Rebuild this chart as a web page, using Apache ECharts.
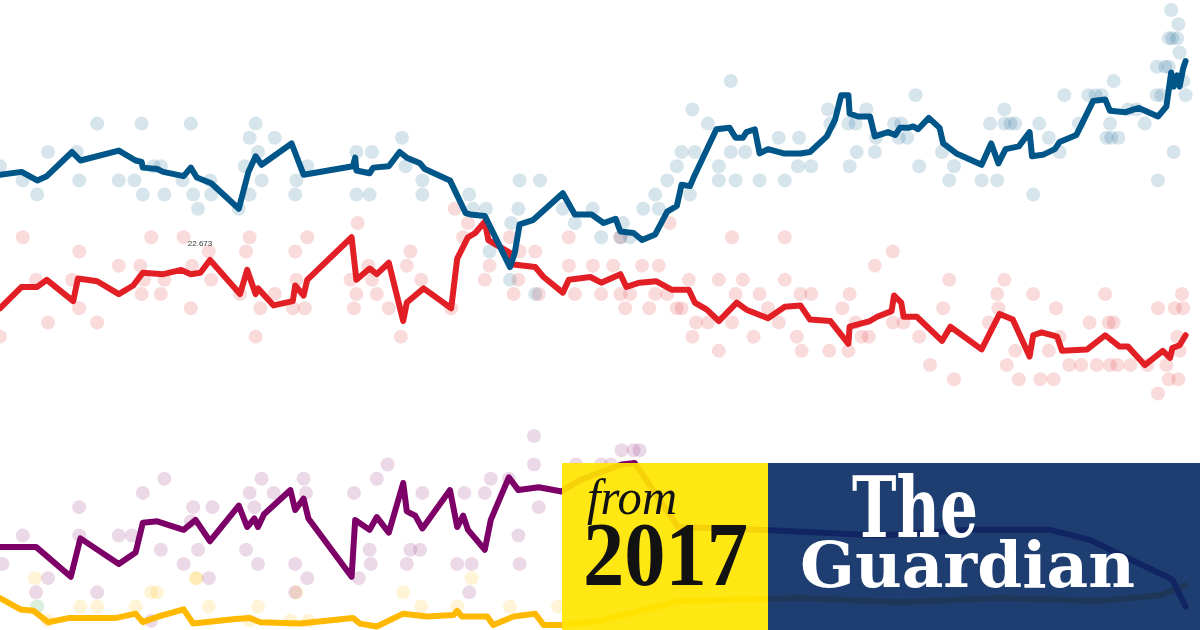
<!DOCTYPE html>
<html>
<head>
<meta charset="utf-8">
<title>Poll tracker</title>
<script src="https://cdn.jsdelivr.net/npm/echarts@6/dist/echarts.min.js"></script>
<style>
    html, body { margin: 0; padding: 0; background: #fff; }
    #chart { width: 1200px; height: 630px; }
</style>
</head>
<body>
<div id="chart"></div>
<script>
    // x = weeks since start of tracker, y = vote share (%)
    var conLine = [[0,37.4],[1.8,37.6],[3.1,37.0],[3.9,37.3],[6.0,39.0],[6.7,38.4],[9.9,39.1],[11.3,38.4],[11.8,38.3],[11.9,37.9],[13.1,37.8],[13.6,37.6],[15.3,37.3],[15.9,37.9],[16.4,37.2],[17.6,36.8],[19.9,35.0],[20.7,37.6],[21.3,38.7],[21.8,38.1],[24.3,39.6],[25.3,37.4],[29.4,38.0],[29.6,38.6],[29.7,37.7],[30.8,37.5],[31.1,37.9],[32.4,38.0],[33.3,39.0],[33.9,38.6],[35.0,38.2],[35.4,37.8],[37.5,37.0],[38.8,34.7],[39.2,34.6],[40.4,34.5],[42.5,30.9],[42.9,31.9],[43.3,33.9],[44.4,34.2],[46.9,36.1],[47.9,34.6],[49.3,34.6],[50.3,34.0],[51.3,34.3],[51.7,33.4],[52.8,33.3],[53.5,32.8],[54.6,33.2],[55.6,34.8],[56.4,35.2],[56.8,36.7],[57.5,36.6],[57.8,37.2],[59.7,40.6],[60.8,40.7],[61.3,40.0],[61.9,40.0],[62.2,40.4],[62.9,40.6],[63.3,38.9],[64.0,39.2],[65.3,38.9],[66.7,38.9],[67.5,39.0],[68.9,40.1],[69.6,41.3],[70.1,43.0],[70.7,43.0],[70.8,41.7],[71.5,41.5],[72.5,41.5],[72.9,40.1],[74.0,40.4],[74.6,40.2],[75.0,40.7],[75.7,40.7],[76.1,40.8],[76.5,40.6],[77.4,41.4],[78.3,40.7],[78.6,39.6],[79.7,38.9],[81.8,38.1],[82.6,39.6],[83.2,38.2],[83.8,39.2],[84.9,39.4],[85.8,40.4],[86.0,38.7],[86.9,38.8],[87.9,39.2],[88.3,39.7],[89.7,40.2],[91.1,42.6],[92.1,42.7],[92.5,41.9],[93.8,41.8],[94.9,42.1],[96.5,41.5],[97.2,42.2],[97.6,44.6],[97.8,43.6],[98.1,44.4],[98.3,43.6],[98.6,44.9],[98.8,45.4]];

    var labLine = [[0,28.0],[1.8,29.5],[3.1,29.5],[3.9,30.0],[6.1,28.5],[6.5,30.1],[8.1,29.9],[9.9,29.0],[11.1,29.6],[11.9,30.5],[13.6,30.4],[15.1,30.7],[15.9,30.4],[16.7,30.5],[17.5,31.4],[20.0,29.0],[20.6,30.7],[21.3,29.0],[21.5,29.4],[22.8,28.2],[24.4,28.5],[24.6,29.6],[25.3,28.9],[25.6,30.0],[29.3,33.0],[29.7,30.0],[30.8,30.8],[31.4,30.4],[32.4,31.2],[33.6,27.1],[33.9,28.4],[35.3,29.4],[37.6,28.0],[38.1,31.5],[39.0,33.0],[39.6,33.3],[40.4,34.1],[40.7,32.8],[42.5,31.9],[42.6,31.1],[44.6,30.9],[45.3,30.2],[46.9,29.1],[47.4,30.0],[49.2,30.2],[50.1,29.8],[51.7,30.4],[52.2,29.5],[53.3,29.8],[54.7,29.9],[56.0,29.3],[57.4,29.3],[57.9,28.4],[58.9,27.9],[59.9,27.1],[61.4,28.4],[62.2,27.9],[64.0,27.3],[65.4,28.1],[66.7,28.2],[67.5,27.2],[69.2,27.1],[70.7,25.5],[70.8,26.7],[72.5,27.1],[73.1,27.4],[74.3,27.8],[74.5,28.9],[75.1,28.4],[75.3,27.4],[76.4,27.4],[78.5,25.7],[79.2,26.7],[81.8,25.1],[83.3,27.6],[84.4,27.2],[85.8,24.6],[86.1,26.1],[86.8,26.3],[88.1,26.0],[88.5,25.0],[90.6,25.1],[92.1,26.1],[93.3,25.3],[94.0,25.3],[95.4,24.0],[96.9,25.0],[97.5,24.5],[97.7,25.2],[98.3,25.4],[98.8,26.1]];

    var ukipLine = [[0,11.2],[3.0,11.2],[5.9,9.1],[6.7,11.8],[9.9,10.0],[11.3,10.8],[11.9,12.9],[13.1,13.0],[15.3,12.4],[16.3,13.1],[17.5,11.6],[19.9,14.1],[20.6,12.6],[21.2,13.2],[21.5,12.6],[22.0,13.5],[24.2,15.2],[24.6,13.8],[25.3,14.6],[25.7,13.2],[29.3,9.1],[29.6,13.1],[30.8,12.4],[31.4,13.3],[32.4,12.2],[33.6,15.7],[33.9,13.7],[34.6,13.4],[35.2,12.5],[37.5,15.2],[38.1,12.6],[38.6,13.4],[39.0,12.4],[40.4,11.0],[40.9,13.1],[42.4,16.1],[43.2,15.2],[44.9,15.4],[46.8,15.1],[48.3,15.9],[51.8,17.0],[52.9,17.1],[56.5,12.6],[63.3,12.4],[73.3,12.0],[80.8,12.4],[87.5,12.4],[90.8,11.7],[97.7,8.9],[98.8,7.0]];

    var ldLine = [[0,7.6],[1.7,6.8],[2.8,6.7],[4.0,5.9],[5.8,6.2],[9.7,6.2],[11.3,6.5],[11.9,5.9],[13.2,6.3],[15.3,6.8],[16.1,5.8],[19.4,6.1],[20.8,6.2],[21.7,5.9],[25.0,5.8],[29.4,6.2],[30.0,5.8],[31.4,5.6],[33.6,6.5],[35.6,6.3],[37.8,6.4],[38.1,6.7],[38.5,6.3],[40.6,6.3],[41.1,5.7],[42.8,6.3],[44.6,6.5],[45.3,5.7],[46.8,5.7],[50.0,6.0],[56.7,7.4],[66.7,7.6],[75.0,7.3],[83.3,7.6],[91.7,7.4],[96.7,7.8],[98.8,8.5]];

    var conPolls = [[8.1,41],[11.8,41],[15.9,41],[21.3,41],[20.8,40],[22.9,40],[33.5,40],[4.0,39],[6.4,39],[21.5,39],[29.7,39],[31.0,39],[0,38],[12.8,38],[13.4,38],[20.4,38],[25.6,38],[33.8,38],[1.9,37],[6.6,37],[9.9,37],[11.2,37],[15.2,37],[17.5,37],[21.8,37],[24.7,37],[3.1,36],[11.9,36],[13.7,36],[16.1,36],[17.6,36],[20.8,36],[24.6,36],[29.7,36],[30.8,36],[16.5,35],[19.9,35],
        [60.9,44],[57.7,42],[59.0,41],[64.9,40],[66.6,40],[56.8,39],[57.9,39],[60.9,39],[62.1,39],[56.4,38],[59.9,38],[66.5,38],[35.2,37],[43.3,37],[45.0,37],[55.6,37],[59.9,37],[61.3,37],[63.3,37],[65.4,37],[35.2,36],[39.1,36],[54.6,36],[57.5,36],[39.4,35],[40.5,35],[43.2,35],[46.9,35],[49.4,35],[53.6,35],[54.9,35],[42.6,34],[47.9,34],[51.9,34],[50.1,33],[51.7,33],[52.5,33],[40.8,32],[42.5,30],[44.6,29],
        [97.6,49],[98.2,48],[97.4,47],[97.7,47],[98.1,47],[98.3,46],[96.4,45],[97.1,45],[97.4,45],[92.8,44],[98.6,44],[76.3,43],[88.7,43],[90.7,43],[91.3,43],[91.8,43],[96.4,43],[96.8,43],[98.8,43],[69.0,42],[72.2,42],[83.7,42],[94.0,42],[94.7,42],[69.2,41],[70.7,41],[71.3,41],[74.5,41],[75.1,41],[82.5,41],[83.7,41],[84.2,41],[84.6,41],[86.6,41],[89.9,41],[92.5,41],[95.4,41],[73.0,40],[74.9,40],[75.6,40],[87.4,40],[92.2,40],[92.6,40],[93.2,40],[71.4,39],[72.9,39],[78.5,39],[88.3,39],[97.8,39],[67.6,38],[70.8,38],[76.6,38],[79.5,38],[79.1,37],[81.8,37],[83.1,37],[96.5,37],[86.1,36]];

    var labPolls = [[29.8,34],[1.9,33],[12.6,33],[15.3,33],[20.8,33],[25.6,33],[6.6,32],[17.4,32],[20.5,32],[24.6,32],[9.9,31],[11.7,31],[16.0,31],[30.7,31],[3.0,30],[6.0,30],[12.0,30],[13.7,30],[17.6,30],[24.7,30],[29.2,30],[31.0,30],[11.8,29],[13.4,29],[20.0,29],[22.9,29],[29.7,29],[31.4,29],[6.6,28],[15.9,28],[21.7,28],[24.4,28],[25.4,28],[29.5,28],[32.4,28],[4.0,27],[8.1,27],[0,26],[21.3,26],[33.4,26],
        [37.9,35],[39.0,34],[55.8,34],[38.6,33],[42.5,33],[47.4,33],[51.7,33],[61.0,33],[65.4,33],[34.2,32],[43.3,32],[44.6,32],[33.9,31],[40.8,31],[47.4,31],[49.4,31],[51.1,31],[53.5,31],[54.9,31],[35.1,30],[40.4,30],[43.2,30],[57.4,30],[59.9,30],[61.9,30],[65.4,30],[42.8,29],[44.9,29],[47.9,29],[50.1,29],[51.7,29],[52.5,29],[54.6,29],[55.6,29],[61.3,29],[63.3,29],[37.6,28],[52.1,28],[54.1,28],[56.4,28],[56.8,28],[64.0,28],[58.0,27],[59.0,27],[61.0,27],[64.9,27],[57.7,26],[62.8,26],[66.4,26],[59.9,25],
        [74.4,32],[72.9,31],[79.1,30],[83.7,30],[66.7,29],[67.6,29],[70.8,29],[83.1,29],[86.1,29],[92.1,29],[98.5,29],[70.2,28],[78.6,28],[83.2,28],[88.0,28],[96.5,28],[97.9,28],[98.6,28],[71.3,27],[74.4,27],[75.3,27],[82.4,27],[90.8,27],[92.4,27],[92.8,27],[71.8,26],[72.4,26],[76.6,26],[88.3,26],[98.1,26],[66.8,25],[69.1,25],[70.7,25],[84.6,25],[87.4,25],[98.3,25],[77.5,24],[83.9,24],[89.1,24],[90.1,24],[91.4,24],[92.5,24],[93.1,24],[94.2,24],[95.6,24],[97.2,24],[79.5,23],[84.9,23],[86.7,23],[87.8,23],[97.4,23],[98.2,23],[96.5,22]];

    var ukipPolls = [[44.5,19],[51.8,18],[52.8,18],[53.3,18],[32.3,17],[44.5,17],[48.0,17],[50.1,17],[50.9,17],[13.7,16],[21.8,16],[25.3,16],[31.4,16],[40.9,16],[42.4,16],[11.9,15],[20.8,15],[22.8,15],[25.5,15],[29.5,15],[35.2,15],[38.7,15],[40.4,15],[6.6,14],[16.1,14],[17.7,14],[21.2,14],[44.9,14],[15.9,13],[1.9,12],[6.6,12],[9.9,12],[11.0,12],[43.2,12],[13.4,11],[16.5,11],[20.5,11],[30.8,11],[34.2,11],[35.0,11],[0.2,10],[15.3,10],[21.5,10],[24.6,10],[30.9,10],[33.9,10],[38.1,10],[39.3,10],[43.3,10],[4.0,9],[17.4,9],[25.6,9],[29.9,9],[3.0,8],[8.1,8],[24.6,8],[39.1,8],[12.6,6]];

    var ldPolls = [[2.9,9],[16.3,9],[16.4,9],[39.3,9],[12.6,8],[13.1,8],[24.7,8],[33.6,8],[6.7,7],[8.1,7],[11.3,7],[17.4,7],[21.5,7],[35.1,7],[38.1,7],[42.5,7],[46.5,7],[4.0,6],[20.8,6],[24.2,6],[25.7,6]];

    var greenPolls = [[3.1,7],[8.1,5]];

    var partyColors = {con: '#005689', lab: '#e31f26', ukip: '#7d0068', ld: '#ffb900', green: '#33a22b'};

    function dots(data, color, alpha) {
        return {
            type: 'scatter', data: data, symbolSize: 14, silent: true,
            itemStyle: {color: color, opacity: alpha}, z: 1
        };
    }

    function trend(data, color, z) {
        return {
            type: 'line', data: data, showSymbol: false, silent: true, z: z,
            lineStyle: {color: color, width: 6, join: 'round', cap: 'round'}
        };
    }

    // horizontal squeeze so the masthead words fill their boxes
    var measureCtx = document.createElement('canvas').getContext('2d');
    function fitScale(text, font, width) {
        measureCtx.font = font;
        return width / measureCtx.measureText(text).width;
    }

    function word(text, font, color, x, y, width) {
        return {
            type: 'text', x: x, y: y, z: 21, silent: true,
            scaleX: fitScale(text, font, width),
            style: {text: text, font: font, fill: color, align: 'left', verticalAlign: 'middle', textAlign: 'left', textVerticalAlign: 'middle'}
        };
    }

    var fontFrom = 'italic 50px "Liberation Serif"';
    var fontYear = 'bold 90px "Liberation Serif"';
    var fontThe = 'bold 85px "DejaVu Serif"';
    var fontName = 'bold 64px "DejaVu Serif"';

    var chart = echarts.init(document.getElementById('chart'), null, {renderer: 'canvas'});
    chart.setOption({
        animation: false,
        backgroundColor: '#ffffff',
        grid: {left: 0, right: 0, top: 0, bottom: 0},
        xAxis: {type: 'value', min: 0, max: 100, show: false},
        yAxis: {type: 'value', min: 5.35, max: 49.7, show: false},
        series: [
            dots(greenPolls, partyColors.green, 0.18),
            dots(ldPolls, partyColors.ld, 0.16),
            dots(ukipPolls, partyColors.ukip, 0.15),
            dots(labPolls, partyColors.lab, 0.16),
            dots(conPolls, partyColors.con, 0.16),
            trend(ldLine, partyColors.ld, 3),
            trend(ukipLine, partyColors.ukip, 3),
            trend(labLine, partyColors.lab, 3),
            trend(conLine, partyColors.con, 4)
        ],
        graphic: [
            {type: 'text', x: 200, y: 244, z: 10, silent: true,
                style: {text: '22.673', font: '8px "Liberation Sans"', fill: '#333', align: 'center', verticalAlign: 'middle', textAlign: 'center', textVerticalAlign: 'middle'}},
            {type: 'rect', shape: {x: 562, y: 463, width: 206, height: 167}, z: 20, silent: true,
                style: {fill: 'rgba(255,229,0,0.92)'}},
            {type: 'rect', shape: {x: 768, y: 463, width: 432, height: 167}, z: 20, silent: true,
                style: {fill: 'rgba(5,41,98,0.9)'}},
            word('from', fontFrom, '#121212', 587, 501, 90),
            word('2017', fontYear, '#121212', 583, 562, 165),
            word('The', fontThe, '#ffffff', 852, 515, 126),
            word('Guardian', fontName, '#ffffff', 800, 570, 335)
        ]
    });
</script>
</body>
</html>
